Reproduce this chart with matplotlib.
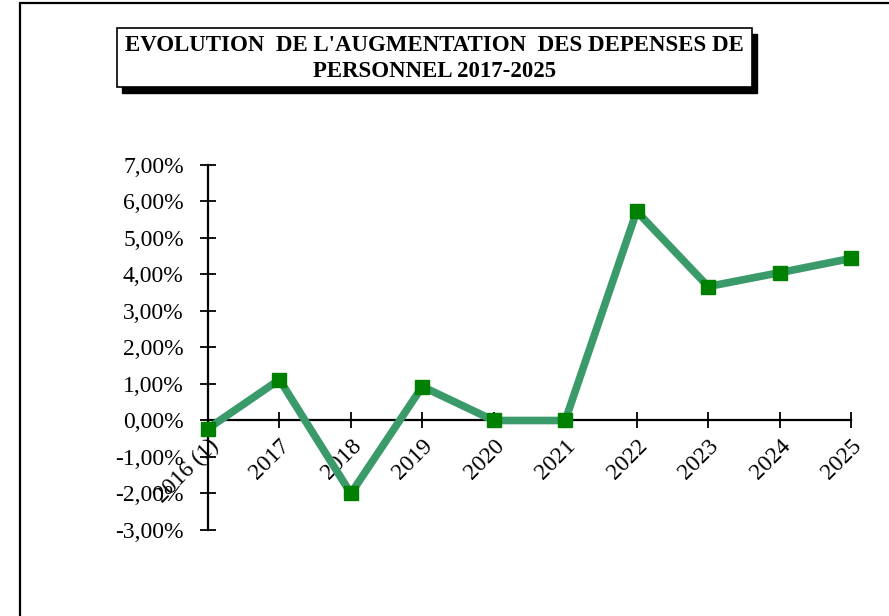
import matplotlib.pyplot as plt
from matplotlib.patches import Rectangle
from matplotlib.ticker import FuncFormatter

# Données du graphique
annees = ['2016 (1)', '2017', '2018', '2019', '2020', '2021', '2022', '2023', '2024', '2025']
augmentation = [-0.22, 1.12, -2.00, 0.93, 0.00, 0.00, 5.73, 3.67, 4.05, 4.44]
titre = "EVOLUTION  DE L'AUGMENTATION  DES DEPENSES DE\nPERSONNEL 2017-2025"

plt.rcParams['font.family'] = ['Liberation Serif', 'DejaVu Serif']

W, H = 889, 616
fig = plt.figure(figsize=(W / 100, H / 100), dpi=100)

# Cadre extérieur
fig.patches.append(Rectangle((20 / W, -0.1), 1.2, 1.1 - 3 / H, transform=fig.transFigure,
                             fill=False, edgecolor='black', linewidth=1.6))

# Boîte du titre avec ombre
bx0, bx1, by0, by1 = 117 / W, 752 / W, 1 - 87 / H, 1 - 28 / H
fig.patches.append(Rectangle((bx0 + 5 / W, by0 - 6 / H), bx1 - bx0, by1 - by0,
                             transform=fig.transFigure, facecolor='black', edgecolor='black'))
fig.patches.append(Rectangle((bx0, by0), bx1 - bx0, by1 - by0, transform=fig.transFigure,
                             facecolor='white', edgecolor='black', linewidth=1.2))
fig.text((bx0 + bx1) / 2, (by0 + by1) / 2 - 1 / H, titre, ha='center', va='center',
         fontsize=16.5, fontweight='bold', linespacing=1.3)

ax = fig.add_axes([208 / W, 1 - 530 / H, (851 - 208) / W, (530 - 165) / H])
x = list(range(len(annees)))
ax.plot(x, augmentation, color='#3a9a6a', linewidth=5.5, zorder=3, clip_on=False)
ax.plot(x, augmentation, linestyle='none', marker='s', markersize=10,
        color='#008000', zorder=4, clip_on=False)

ax.set_xlim(0, len(annees) - 1)
ax.set_ylim(-3, 7)
ax.set_yticks(range(-3, 8))
ax.yaxis.set_major_formatter(FuncFormatter(lambda v, p: f"{v:.2f}%".replace('.', ',')))
ax.set_xticks(x)
ax.set_xticklabels(annees)

ax.spines['top'].set_visible(False)
ax.spines['right'].set_visible(False)
ax.spines['bottom'].set_position(('data', 0))
ax.spines['left'].set_linewidth(1.6)
ax.spines['bottom'].set_linewidth(1.6)
ax.tick_params(axis='both', direction='inout', length=11, width=1.3, labelsize=17)
ax.tick_params(axis='y', pad=12)
ax.tick_params(axis='x', pad=5, labelrotation=45)
plt.setp(ax.get_xticklabels(), ha='right', rotation_mode='anchor')

fig.savefig('out.png', dpi=100)
